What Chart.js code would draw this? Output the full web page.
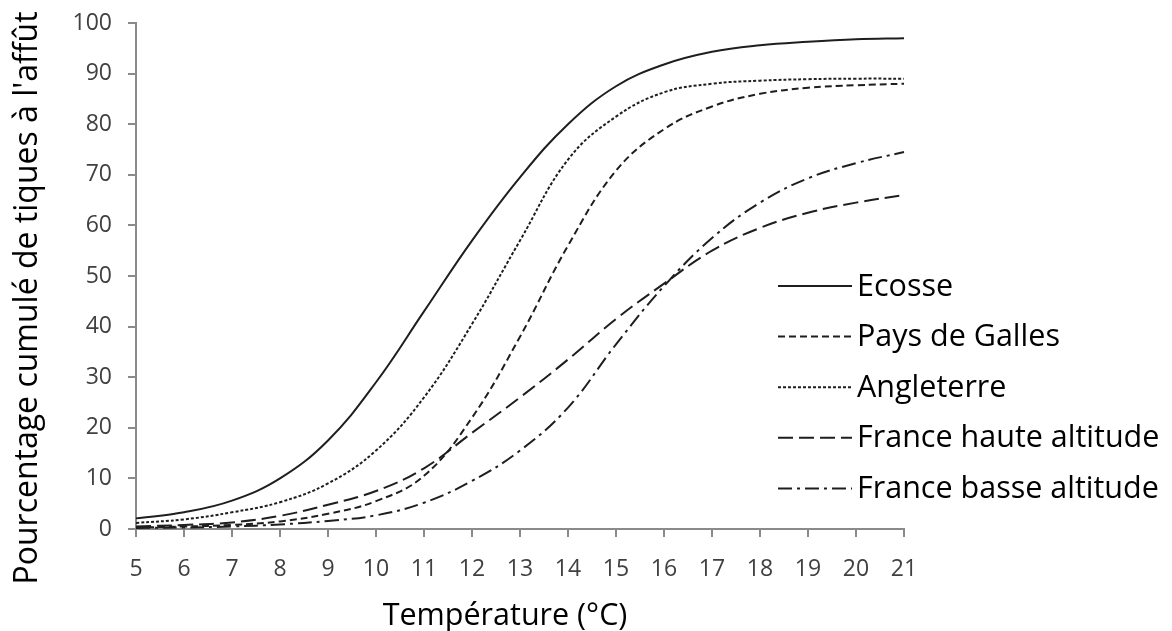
<!DOCTYPE html>
<html lang="fr">
<head>
  <meta charset="UTF-8">
  <title>Tiques à l'affût</title>
  <script src="https://cdn.jsdelivr.net/npm/chart.js@4.4.0/dist/chart.umd.min.js"></script>
  <style>
    html, body { margin: 0; padding: 0; background: #fff; }
  </style>
</head>
<body>
  <canvas id="chart" width="1172" height="631"></canvas>
  <script>

// temperatures (°C) on the x axis
const temperatures = [5, 6, 7, 8, 9, 10, 11, 12, 13, 14, 15, 16, 17, 18, 19, 20, 21];

// cumulative % of questing ticks
const ecosse       = [2.1, 3.3, 5.6, 10, 17.5, 29, 43, 57, 69.5, 80, 87.5, 91.8, 94.3, 95.6, 96.3, 96.8, 97];
const paysDeGalles = [0.3, 0.5, 0.8, 1.5, 3, 5.5, 10.5, 22, 38, 56, 70.8, 79, 83.5, 86, 87.2, 87.7, 88];
const angleterre   = [1.2, 1.9, 3.3, 5.3, 9, 15.5, 26, 40.5, 57, 73, 81.5, 86.3, 88, 88.6, 88.9, 89, 89];
const franceHaute  = [0.5, 0.8, 1.3, 2.6, 4.8, 7.5, 12, 19, 26, 33.5, 41.5, 48.5, 55, 59.5, 62.5, 64.5, 66];
const franceBasse  = [0.2, 0.3, 0.5, 0.9, 1.6, 2.7, 5.2, 9.5, 15.5, 24, 36.5, 48, 57.5, 64.5, 69.3, 72.3, 74.5];

const seriesNames = ['Ecosse', 'Pays de Galles', 'Angleterre', 'France haute altitude', 'France basse altitude'];
const xTitle = 'Température (°C)';
const yTitle = "Pourcentage cumulé de tiques à l'affût";

const FONT = '"Open Sans", Lato, sans-serif';
const INK = '#1e1e1e';
const AXIS = '#8a8a8a';

function line(label, data, dash) {
  return {
    label: label,
    data: data,
    borderColor: INK,
    borderWidth: 2,
    borderDash: dash,
    pointRadius: 0,
    fill: false,
    tension: 0.4
  };
}

// legend inside the plot on the right + axis titles placed like the original
const decorations = {
  id: 'decorations',
  afterDraw(chart) {
    const ctx = chart.ctx;
    const area = chart.chartArea;
    const x0 = area.right - 126;
    const x1 = area.right - 52;
    const tx = area.right - 47;
    ctx.save();
    ctx.font = '30.5px ' + FONT;
    ctx.textBaseline = 'middle';
    ctx.fillStyle = '#000';
    chart.data.datasets.forEach((ds, i) => {
      const y = area.top + 263 + i * 50.6;
      ctx.beginPath();
      ctx.setLineDash(ds.borderDash);
      ctx.strokeStyle = INK;
      ctx.lineWidth = 2;
      ctx.moveTo(x0, y);
      ctx.lineTo(x1, y);
      ctx.stroke();
      ctx.setLineDash([]);
      ctx.fillText(ds.label, tx, y + 1);
    });

    // x title
    ctx.textAlign = 'center';
    ctx.textBaseline = 'alphabetic';
    ctx.fillText(xTitle, area.left + 369, 625);

    // y title, rotated
    ctx.font = '32px ' + FONT;
    ctx.translate(37, area.top + 275);
    ctx.rotate(-Math.PI / 2);
    ctx.fillText(yTitle, 0, 0);
    ctx.restore();
  }
};

const ctx = document.getElementById('chart').getContext('2d');
const myChart = new Chart(ctx, {
  type: 'line',
  data: {
    labels: temperatures,
    datasets: [
      line(seriesNames[0], ecosse, []),
      line(seriesNames[1], paysDeGalles, [7, 4]),
      line(seriesNames[2], angleterre, [3, 2]),
      line(seriesNames[3], franceHaute, [15, 6]),
      line(seriesNames[4], franceBasse, [14, 5, 3, 5])
    ]
  },
  options: {
    responsive: false,
    animation: false,
    layout: { padding: { top: 23, right: 268, left: 0, bottom: 0 } },
    plugins: {
      legend: { display: false },
      tooltip: { enabled: false }
    },
    scales: {
      x: {
        type: 'category',
        offset: false,
        grid: { drawOnChartArea: false, drawTicks: true, tickLength: 8, color: AXIS, lineWidth: 2 },
        border: { color: AXIS, width: 2 },
        ticks: { color: '#404040', font: { family: FONT, size: 23 }, padding: 19, maxRotation: 0, autoSkip: false },
        afterFit(scale) { scale.height = 102; }
      },
      y: {
        min: 0,
        max: 100,
        grid: { drawOnChartArea: false, drawTicks: true, tickLength: 8, color: AXIS, lineWidth: 2 },
        border: { color: AXIS, width: 2 },
        ticks: { stepSize: 10, color: '#404040', font: { family: FONT, size: 23 }, padding: 16 },
        afterFit(scale) {
          scale.width = 136;
          scale.paddingTop = 0;
          scale.paddingBottom = 0;
        }
      }
    }
  },
  plugins: [decorations]
});
  </script>
</body>
</html>
